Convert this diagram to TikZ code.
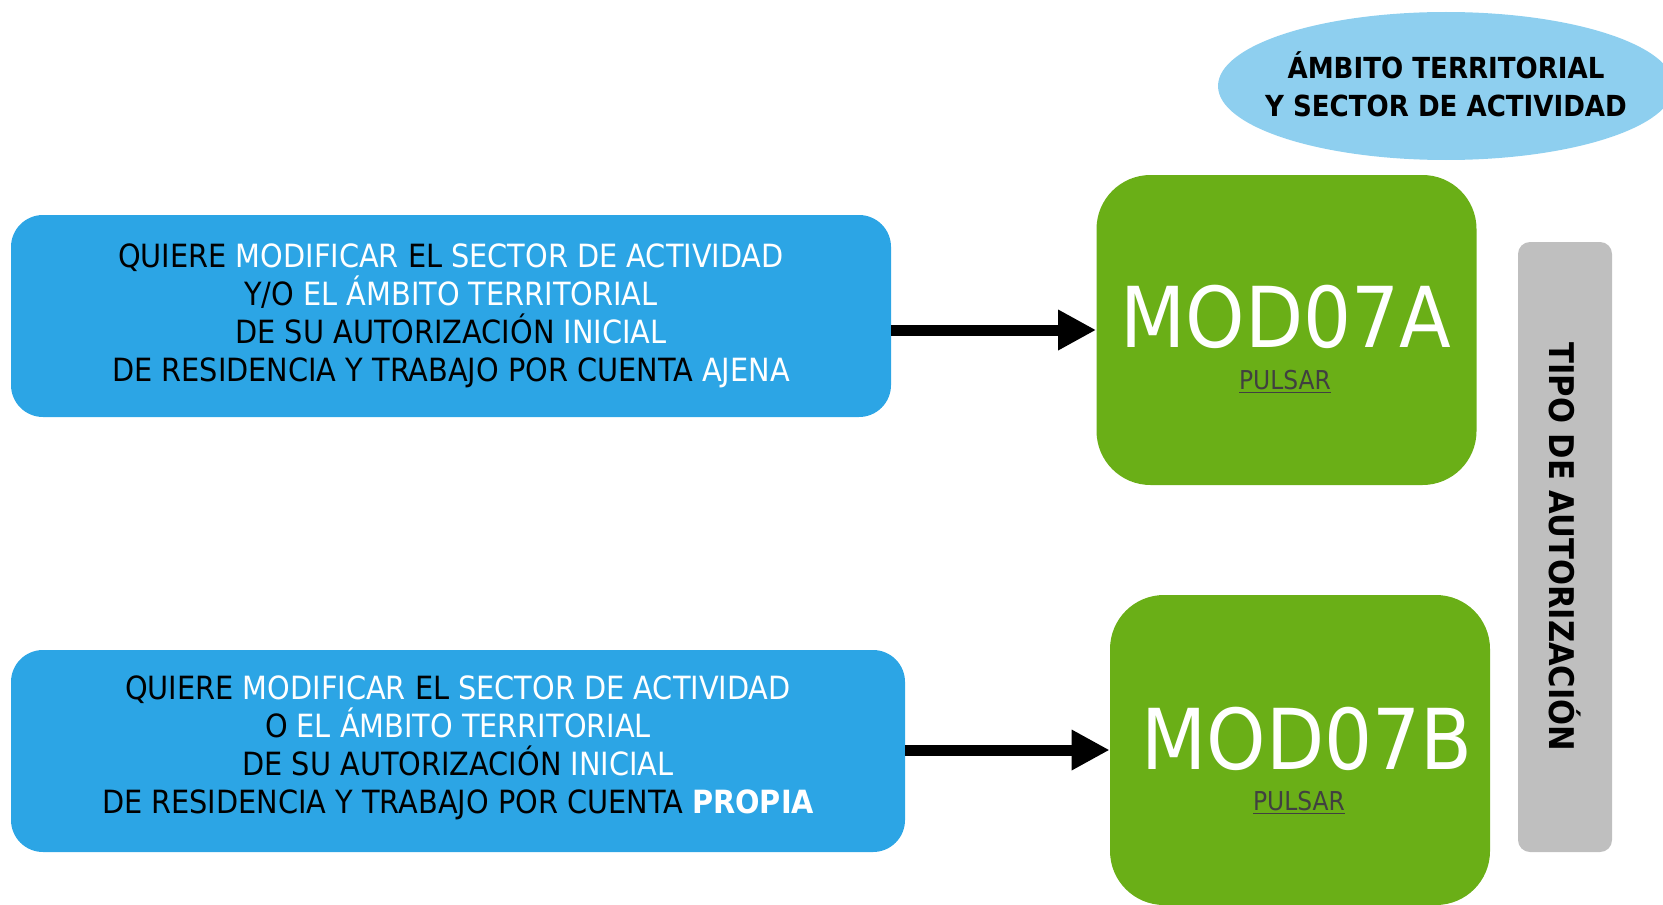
\documentclass[tikz,border=0pt]{standalone}
\usepackage{fontspec}
\setmainfont{DejaVu Sans Condensed}
\usetikzlibrary{arrows.meta,shapes.geometric}
\definecolor{boxblue}{HTML}{2CA5E5}
\definecolor{modgreen}{HTML}{6AAF17}
\definecolor{barGray}{HTML}{BFBFBF}
\definecolor{ellblue}{HTML}{8ECFEF}
\definecolor{pulgray}{HTML}{404040}
\newcommand{\wtx}[1]{\textcolor{white}{#1}}
\newcommand{\wbx}[1]{\textcolor{white}{\bfseries #1}}
\begin{document}
\begin{tikzpicture}[x=0.5pt,y=-0.5pt,
  qbox/.style={rectangle, rounded corners=16pt, fill=boxblue, inner sep=0pt, align=center,
    minimum height=101pt, font=\fontsize{16}{19}\selectfont},
  modbox/.style={rectangle, rounded corners=27pt, fill=modgreen, inner sep=0pt,
    minimum width=190pt, minimum height=155pt},
  modtext/.style={text=white, font=\fontsize{42}{42}\selectfont, inner sep=0pt},
  pulsar/.style={text=pulgray, font=\fontsize{13}{13}\selectfont, inner sep=0pt},
  bigarrow/.style={line width=5.5pt, -{Triangle[length=19pt,width=19pt]}}
]
\useasboundingbox (0,0) rectangle (1663,904);
\clip (0,0) rectangle (1663,904);
\node[ellipse, fill=ellblue, minimum width=228pt, minimum height=74pt, inner sep=0pt] (ell) at (1446,86) {};
\node[align=center, inner sep=0pt, font=\bfseries\fontsize{14.5}{19}\selectfont] (ellt) at (1446,84)
  {ÁMBITO TERRITORIAL\\Y SECTOR DE ACTIVIDAD};
\node[qbox, minimum width=440pt] (b1) at (451,316)
  {QUIERE \wtx{MODIFICAR} EL \wtx{SECTOR DE ACTIVIDAD}\\
   Y/O \wtx{EL ÁMBITO TERRITORIAL}\\
   DE SU AUTORIZACIÓN \wtx{INICIAL}\\
   DE RESIDENCIA Y TRABAJO POR CUENTA \wtx{AJENA}};
\node[qbox, minimum width=447pt] (b2) at (458,751) {};
\node[align=center, inner sep=0pt, font=\fontsize{16}{19}\selectfont] (b2t) at (458,748)
  {QUIERE \wtx{MODIFICAR} EL \wtx{SECTOR DE ACTIVIDAD}\\
   O \wtx{EL ÁMBITO TERRITORIAL}\\
   DE SU AUTORIZACIÓN \wtx{INICIAL}\\
   DE RESIDENCIA Y TRABAJO POR CUENTA \wbx{PROPIA}};
\node[modbox] (ga) at (1286.5,330) {};
\node[modbox] (gb) at (1300,750) {};
\node[modtext] (ta) at (1286,317) {MOD07A};
\node[pulsar] (pa) at (1285,382) {\underline{PULSAR}};
\node[modtext] (tb) at (1307,739) {MOD07B};
\node[pulsar] (pb) at (1299,803) {\underline{PULSAR}};
\node[rectangle, rounded corners=6pt, fill=barGray, minimum width=47pt, minimum height=305pt,
  inner sep=0pt] (bar) at (1565,547) {};
\node[rotate=-90, font=\bfseries\fontsize{17}{17}\selectfont, inner sep=0pt] (bt) at (bar.center)
  {TIPO DE AUTORIZACIÓN};
\draw[bigarrow] (b1.east |- ga.west) -- (ga.west);
\draw[bigarrow] (b2.east |- gb.west) -- (gb.west);
\end{tikzpicture}
\end{document}
